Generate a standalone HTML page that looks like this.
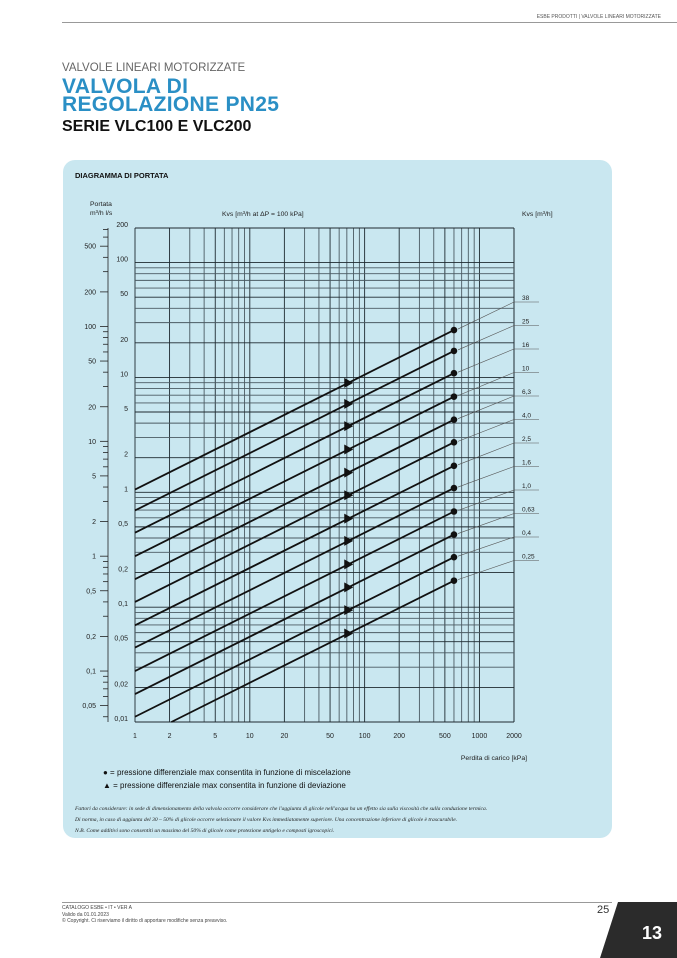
<!DOCTYPE html>
<html><head><meta charset="utf-8"><style>
body{margin:0;width:677px;height:958px;background:#fff;position:relative;overflow:hidden;font-family:"Liberation Sans",sans-serif}
.a{position:absolute;white-space:nowrap}
</style></head><body>
<div class="a" style="left:62px;top:22px;width:615px;height:1px;background:#999"></div>
<div class="a" style="right:16px;top:14px;font-size:5px;color:#555">ESBE PRODOTTI | VALVOLE LINEARI MOTORIZZATE</div>
<div class="a" style="left:62px;top:62px;font-size:11.5px;color:#666">VALVOLE LINEARI MOTORIZZATE</div>
<div class="a" style="left:62px;top:78px;font-size:21px;line-height:18px;font-weight:bold;color:#2a8fc5;letter-spacing:0.3px">VALVOLA DI<br>REGOLAZIONE PN25</div>
<div class="a" style="left:62px;top:118px;font-size:16px;font-weight:bold;color:#111">SERIE VLC100 E VLC200</div>
<div class="a" style="left:63px;top:160px;width:549px;height:678px;background:#c9e7f0;border-radius:12px"></div>
<div class="a" style="left:75px;top:171px;font-size:7.5px;font-weight:bold;color:#111">DIAGRAMMA DI PORTATA</div>
<svg class="a" style="left:0;top:0" width="677" height="958" font-family="Liberation Sans, sans-serif">
<g id="grid"></g><g id="series"></g><g id="labels"></g>
</svg>
<div class="a" style="left:103px;top:768px;font-size:8px;color:#111">● = pressione differenziale max consentita in funzione di miscelazione</div>
<div class="a" style="left:103px;top:781px;font-size:8px;color:#111">▲ = pressione differenziale max consentita in funzione di deviazione</div>
<div class="a" style="left:75px;top:804px;font-size:5.6px;line-height:11px;font-style:italic;font-family:'Liberation Serif',serif;color:#222">Fattori da considerare: in sede di dimensionamento della valvola occorre considerare che l'aggiunta di glicole nell'acqua ha un effetto sia sulla viscosità che sulla conduzione termica.<br>Di norma, in caso di aggiunta del 30 – 50% di glicole occorre selezionare il valore Kvs immediatamente superiore. Una concentrazione inferiore di glicole è trascurabile.<br>N.B. Come additivi sono consentiti un massimo del 50% di glicole come protezione antigelo e composti igroscopici.</div>
<div class="a" style="left:62px;top:902px;width:550px;height:1px;background:#999"></div>
<div class="a" style="left:62px;top:905px;font-size:5px;line-height:6.5px;color:#444">CATALOGO ESBE • IT • VER A<br>Valido da 01.01.2023<br>© Copyright. Ci riserviamo il diritto di apportare modifiche senza preavviso.</div>
<div class="a" style="left:597px;top:904px;font-size:11px;color:#333">25</div>
<svg class="a" style="left:600px;top:902px" width="77" height="56"><polygon points="18,0 77,0 77,56 0,56" fill="#2b2b2b"/><text x="52" y="37" fill="#fff" font-size="18" font-weight="bold" text-anchor="middle" font-family="Liberation Sans, sans-serif">13</text></svg>
<script>
const kvs=[38,25,16,10,6.3,4,2.5,1.6,1,0.63,0.4,0.25];
const kvsLabels=["38","25","16","10","6,3","4,0","2,5","1,6","1,0","0,63","0,4","0,25"];
const dotDp=[600,600,600,600,600,600,600,600,600,600,600,600];
const triDp=[72,72,72,72,72,72,72,72,72,72,72,72];
const xTicks=[1,2,5,10,20,50,100,200,500,1000,2000];
const xTickLabels=["1","2","5","10","20","50","100","200","500","1000","2000"];
const lsTicks=[200,100,50,20,10,5,2,1,0.5,0.2,0.1,0.05,0.02,0.01];
const lsTickLabels=["200","100","50","20","10","5","2","1","0,5","0,2","0,1","0,05","0,02","0,01"];
const m3Ticks=[500,200,100,50,20,10,5,2,1,0.5,0.2,0.1,0.05];
const m3TickLabels=["500","200","100","50","20","10","5","2","1","0,5","0,2","0,1","0,05"];
const L=135,R=514,T=228,B=722;
const X=v=>L+(Math.log10(v)-0)/Math.log10(2000)*(R-L);
const Y=v=>T+(Math.log10(200)-Math.log10(v))/(Math.log10(200)-Math.log10(0.01))*(B-T);
const NS="http://www.w3.org/2000/svg";
function mk(tag,attrs,parent,txt){const e=document.createElementNS(NS,tag);for(const k in attrs)e.setAttribute(k,attrs[k]);if(txt!==undefined)e.textContent=txt;document.getElementById(parent).appendChild(e);return e;}
// grid
for(let d=0;d<4;d++)for(let m=1;m<10;m++){const v=m*Math.pow(10,d);if(v>2000)break;
 const e=mk('line',{x1:X(v),x2:X(v),y1:T,y2:B,stroke:(m==1||m==2||m==5)?'#1e2a30':'#4a5a62','stroke-width':0.9},'grid');
 }
mk('line',{x1:X(2000),x2:X(2000),y1:T,y2:B,stroke:'#1e2a30','stroke-width':0.9},'grid');
for(let d=-2;d<3;d++)for(let m=1;m<10;m++){const v=m*Math.pow(10,d);if(v>200)break;
 const e=mk('line',{x1:L,x2:R,y1:Y(v),y2:Y(v),stroke:(m==1||m==2||m==5)?'#1e2a30':'#4a5a62','stroke-width':0.9},'grid');
 }
// left m3/h axis
const ax=mk('line',{x1:108,x2:108,y1:Y(720/3.6),y2:Y(0.036/3.6),stroke:'#222','stroke-width':0.8},'grid');

for(let d=-2;d<3;d++)for(let m=1;m<10;m++){const v=m*Math.pow(10,d);if(v>700||v<0.04)continue;
 const y=Y(v/3.6);const big=(m==1||m==2||m==5);
 mk('line',{x1:big?100:103,x2:108,y1:y,y2:y,stroke:'#222','stroke-width':0.8},'grid');}
m3Ticks.forEach((v,i)=>{const t=mk('text',{x:96,y:Y(v/3.6)+2.5,'font-size':7,'text-anchor':'end',fill:'#222'},'labels',m3TickLabels[i]);
 });
lsTicks.forEach((v,i)=>{const t=mk('text',{x:128,y:Y(v)-1,'font-size':7,'text-anchor':'end',fill:'#222'},'labels',lsTickLabels[i]);
 });
xTicks.forEach((v,i)=>{const t=mk('text',{x:X(v),y:738,'font-size':7,'text-anchor':'middle',fill:'#222'},'labels',xTickLabels[i]);
 });
// series
const flow=(k,dp)=>k*Math.sqrt(dp/100)/3.6;
kvs.forEach((k,i)=>{
 let dp0=1;const q0=flow(k,1);if(q0<0.01){dp0=100*Math.pow(0.01*3.6/k,2);}
 const ln=mk('line',{x1:X(dp0),y1:Y(flow(k,dp0)),x2:X(dotDp[i]),y2:Y(flow(k,dotDp[i])),stroke:'#111','stroke-width':1.8},'series');
 
 const cx=X(dotDp[i]),cy=Y(flow(k,dotDp[i]));
 const dot=mk('circle',{cx:cx,cy:cy,r:3.3,fill:'#111'},'series');
 
 const tx=X(triDp[i]),ty=Y(flow(k,triDp[i]));
 const tri=mk('polygon',{points:`${tx-4},${ty-5} ${tx+5},${ty} ${tx-4},${ty+5}`,fill:'#111'},'series');
 
 const ly=302+i*23.5;
 mk('line',{x1:cx+4,y1:cy-1,x2:R,y2:ly,stroke:'#555','stroke-width':0.6},'series');
 mk('line',{x1:R,y1:ly,x2:539,y2:ly,stroke:'#555','stroke-width':0.6},'series');
 const t=mk('text',{x:522,y:ly-2,'font-size':6.5,fill:'#222'},'labels',kvsLabels[i]);
 
});
const tt=[["Portata",90,206,'portata-label'],["m³/h   l/s",90,215,'unit-labels'],["Kvs [m³/h at ΔP = 100 kPa]",222,216,'kvs-axis-title'],["Kvs   [m³/h]",522,216,'kvs-right-title']];
tt.forEach(a=>{const t=mk('text',{x:a[1],y:a[2],'font-size':6.8,fill:'#222'},'labels',a[0]);});
const xt=mk('text',{x:527,y:760,'font-size':6.8,'text-anchor':'end',fill:'#222'},'labels','Perdita di carico [kPa]');

</script>
</body></html>
